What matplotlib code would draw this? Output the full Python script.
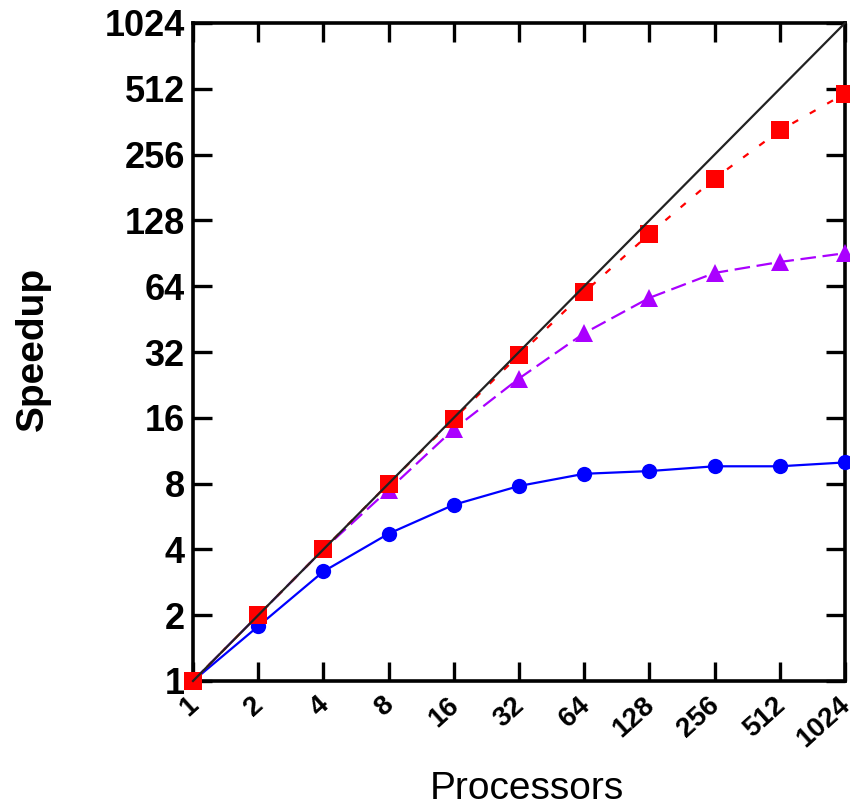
import matplotlib
matplotlib.use("Agg")
import matplotlib.pyplot as plt
import matplotlib.transforms as mtransforms

# -------------------------------------------------------------
# Data
# -------------------------------------------------------------
processors = [1, 2, 4, 8, 16, 32, 64, 128, 256, 512, 1024]
tick_labels = ["1", "2", "4", "8", "16", "32", "64", "128", "256", "512", "1024"]

ideal = [1, 1024]
ideal_x = [1, 1024]
speedup_red = [1, 2, 4, 8, 15.8, 31, 60, 111, 199, 330, 487]
speedup_purple = [1, 2, 4, 7.5, 14.2, 24.2, 39, 56.6, 73.6, 82.6, 90.6]
speedup_blue = [1, 1.78, 3.17, 4.72, 6.4, 7.8, 8.87, 9.13, 9.6, 9.6, 10.0]

plt.rcParams["font.family"] = ["Liberation Sans", "DejaVu Sans"]

fig = plt.figure(figsize=(8.5, 8.08), dpi=100)
ax = fig.add_axes([193 / 850, (808 - 681) / 808, 652 / 850, 658 / 808])

# -------------------------------------------------------------
# Series
# -------------------------------------------------------------
ax.plot(processors, speedup_blue, color="#0000ff", lw=1.6, marker="o",
        markersize=11, markeredgewidth=0, clip_on=False, zorder=3)
ax.plot(processors, speedup_purple, color="#aa00ff", lw=1.6, ls=(0, (7, 3)),
        marker="^", markersize=12.5, markeredgewidth=0, clip_on=False, zorder=4)
ax.plot(processors, speedup_red, color="#ff0000", lw=1.6, ls=(0, (3, 6)),
        marker="s", markersize=12.5, markeredgewidth=0, clip_on=False, zorder=5)
ax.plot(ideal_x, ideal, color="#222222", lw=1.6, clip_on=False, zorder=6)

# -------------------------------------------------------------
# Axes formatting
# -------------------------------------------------------------
ax.set_xscale("log", base=2)
ax.set_yscale("log", base=2)
ax.set_xlim(1, 1024)
ax.set_ylim(1, 1024)
ax.set_xticks(processors)
ax.set_xticklabels(tick_labels, rotation=42, ha="right", va="top",
                   rotation_mode="anchor", fontsize=20, fontweight="bold")
ax.set_yticks(processors)
ax.set_yticklabels(tick_labels, fontsize=26, fontweight="bold")
ax.minorticks_off()
ax.tick_params(which="major", direction="in", length=14, width=2.4,
               top=True, right=True)
ax.tick_params(axis="x", pad=8)
ax.tick_params(axis="y", pad=6)
for sp in ax.spines.values():
    sp.set_linewidth(2.6)

# nudge rotated x labels a little left so the last one stays inside
shift = mtransforms.ScaledTranslation(-5 / 72, 0, fig.dpi_scale_trans)
for lbl in ax.get_xticklabels():
    lbl.set_transform(lbl.get_transform() + shift)

ax.set_xlabel("Processors", fontsize=28)
ax.set_ylabel("Speedup", fontsize=28, fontweight="bold")
ax.xaxis.set_label_coords(0.512, -0.137)
ax.yaxis.set_label_coords(-0.218, 0.505)

fig.savefig("out.png", dpi=100)
